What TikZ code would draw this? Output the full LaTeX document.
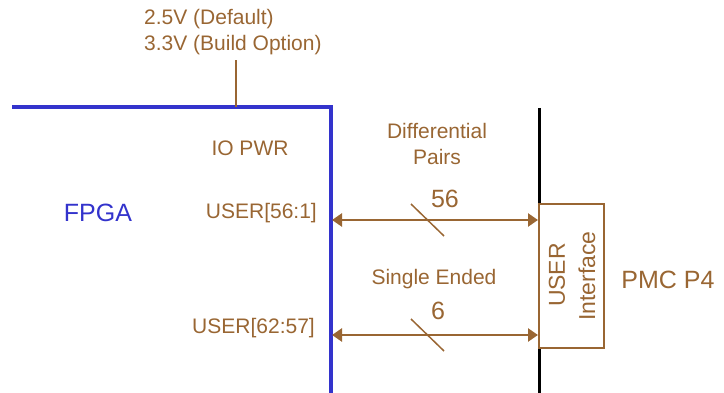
\documentclass[tikz,border=0pt]{standalone}
\usepackage{fontspec}
\setmainfont{Liberation Sans}
\usetikzlibrary{arrows.meta}
\definecolor{wire}{RGB}{153,102,51}
\definecolor{fpga}{RGB}{51,51,204}
\tikzset{lbl/.style={text=wire,font=\fontsize{21}{26}\selectfont,inner sep=1pt},
  big/.style={font=\fontsize{25}{28}\selectfont,inner sep=1pt},
  bus/.style={draw=wire,line width=2.5pt,{Triangle[length=10pt,width=13pt]}-{Triangle[length=10pt,width=13pt]}}}
\begin{document}
\begin{tikzpicture}[x=1pt,y=-1pt]
  \useasboundingbox (0,0) rectangle (724,393);
  \def\xf{331}\def\xp{539}
  \draw[fpga,line width=3.5pt] (12,107)--(\xf,107)--(\xf,393);
  \draw[line width=3pt] (\xp,108)--(\xp,393);
  \coordinate (pwr) at (236,107);
  \node[lbl,anchor=west,align=left] (volt) at (143,32) {2.5V (Default)\\3.3V (Build Option)};
  \draw[wire,line width=2pt] (pwr)--(236,60);
  \node[lbl] (iopwr) at (250,148) {IO PWR};
  \node[big,text=fpga] (fpgalbl) at (98,213) {FPGA};
  \node[big,text=wire] (pmc) at (668,280) {PMC P4};
  \node[draw=wire,fill=white,line width=2pt,minimum width=65pt,minimum height=144pt,inner sep=0pt] (usr) at (571.5,276) {};
  \node[lbl,rotate=90] (usrtxt) at (557,275) {\fontsize{23}{26}\selectfont USER};
  \node[lbl,rotate=90] (iftxt) at (587,276) {\fontsize{23}{26}\selectfont Interface};
  \node[lbl,anchor=east] (u1) at (318,213) {USER[56:1]};
  \node[lbl,anchor=east] (u2) at (316,328) {USER[62:57]};
  \coordinate (f1) at (\xf+1,220); \coordinate (f2) at (\xf+1,335);
  \draw[bus] (f1)--(f1-|usr.west);
  \draw[bus] (f2)--(f2-|usr.west);
  \draw[wire,line width=1.5pt] (411,204)--(444,236) (411,319)--(444,351);
  \node[lbl,align=center] (diff) at (437,144) {Differential\\Pairs};
  \node[big,text=wire] (n56) at (445,199) {56};
  \node[lbl] (single) at (434,279) {Single Ended};
  \node[big,text=wire] (n6) at (438,311) {6};
\end{tikzpicture}
\end{document}
